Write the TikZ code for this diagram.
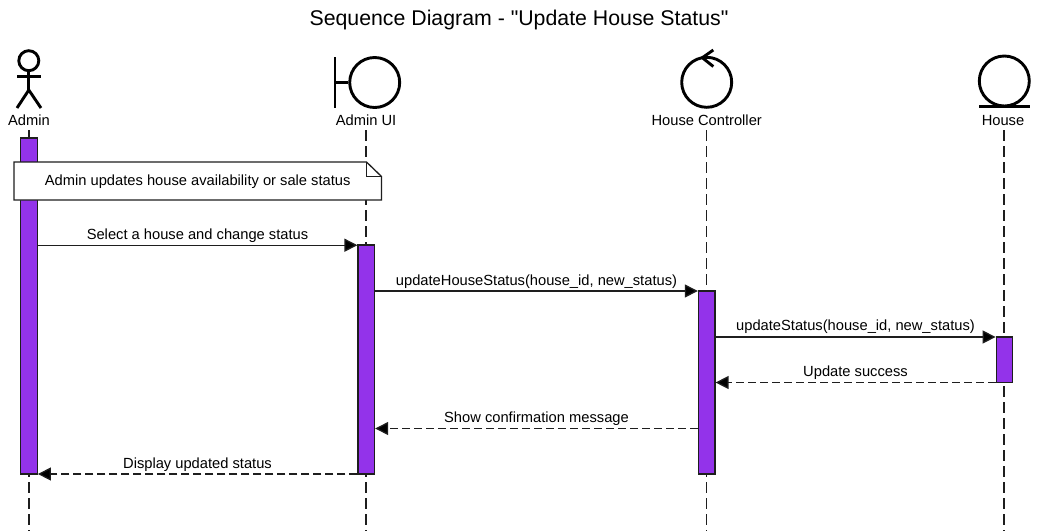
\documentclass[tikz,border=0pt]{standalone}
\usepackage{fontspec}
\setmainfont{Liberation Sans}
\newfontfamily\rawfont{Liberation Sans}
\usetikzlibrary{arrows.meta}
\definecolor{barfill}{RGB}{147,51,234}
\definecolor{ink}{RGB}{30,30,30}
\tikzset{
  x=1pt,y=-1pt,
  figure/.style={draw=black,line width=2.9pt,line cap=butt},
  figcircle/.style={draw=black,line width=2.9pt,circle,inner sep=0pt},
  lifeline/.style={draw=ink,line width=1.3pt,dash pattern=on 11pt off 5pt},
  bar/.style={draw=ink,line width=1.3pt,fill=barfill,minimum width=16.5pt,inner sep=0pt,rectangle},
  msg/.style={draw=ink,line width=1.3pt,-{Triangle[length=13pt,width=13pt,fill=black]}},
  reply/.style={msg,dash pattern=on 8pt off 4pt},
  lbl/.style={anchor=base,font=\fontsize{14.7}{16}\selectfont,text=black,inner sep=0pt},
  notebox/.style={draw=ink,line width=1.3pt,fill=white},
}
\begin{document}
\begin{tikzpicture}
\useasboundingbox (0,0) rectangle (1038,531);
\fill[white] (0,0) rectangle (1038,531);
\node[lbl,font=\fontsize{21.3}{24}\selectfont] (title) at (519,25) {\rawfont Sequence Diagram - "Update House Status"};

% participant labels
\node[lbl] (lA) at (29,125) {Admin};
\node[lbl] (lB) at (366,125) {Admin UI};
\node[lbl] (lC) at (706.7,125) {House Controller};
\node[lbl] (lD) at (1003,125) {House};

% lifeline ends
\coordinate (tA) at (29,130);   \coordinate (eA) at (29,531);
\coordinate (tB) at (366,130);  \coordinate (eB) at (366,531);
\coordinate (tC) at (706.7,130);\coordinate (eC) at (706.7,531);
\coordinate (tD) at (1004,130); \coordinate (eD) at (1004,531);
\draw[lifeline] (tA) -- (eA);
\draw[lifeline] (tB) -- (eB);
\draw[lifeline] (tC) -- (eC);
\draw[lifeline] (tD) -- (eD);

% activation bars
\node[bar,minimum height=336pt] (bA) at (29,306) {};
\node[bar,minimum height=229pt] (bB) at (366.3,359.5) {};
\node[bar,minimum height=183pt] (bC) at (706.7,382.5) {};
\node[bar,minimum height=45.5pt] (bD) at (1004.5,359.75) {};

% actor
\node[figcircle,minimum size=20pt] (head) at (28.8,60.7) {};
\coordinate (armL) at (17,76.7); \coordinate (armR) at (41,76.7);
\coordinate (hip) at (28.8,90);
\coordinate (legL) at (17,108); \coordinate (legR) at (41,108);
\draw[figure] (head.south) -- (hip);
\draw[figure] (armL) -- (armR);
\draw[figure] (legL) -- (hip) -- (legR);

% boundary
\node[figcircle,minimum size=50pt] (bnd) at (374.7,82.5) {};
\coordinate (bndT) at (335,57); \coordinate (bndB) at (335,108); \coordinate (bndM) at (335,82.5);
\draw[figure] (bndT) -- (bndB);
\draw[figure] (bndM) -- (bnd.west);

% control
\node[figcircle,minimum size=50pt] (ctl) at (706.7,82.3) {};
\coordinate (ctlTip) at (702.3,57.7); \coordinate (ctlU) at (713.3,50); \coordinate (ctlD) at (713.3,66.5);
\draw[figure] (ctlU) -- (ctlTip) -- (ctlD);

% entity
\node[figcircle,minimum size=50pt] (ent) at (1004.3,81) {};
\coordinate (entL) at (979,106.8); \coordinate (entR) at (1030,106.8);
\draw[figure] (entL) -- (entR);

% note
\coordinate (nTL) at (14,162); \coordinate (nFold) at (366.5,162);
\coordinate (nFoldR) at (381.5,176.5); \coordinate (nBR) at (381.5,200); \coordinate (nBL) at (14,200);
\coordinate (nIn) at (366.5,176.5);
\draw[notebox] (nTL) -- (nFold) -- (nFoldR) -- (nBR) -- (nBL) -- cycle;
\draw[notebox,fill=none] (nFold) -- (nIn) -- (nFoldR);
\node[lbl] (noteText) at (197.7,185) {Admin updates house availability or sale status};

% messages
\coordinate (m1) at (0,245.2);
\coordinate (m2) at (0,291);
\coordinate (m3) at (0,337);
\coordinate (m4) at (0,382.5);
\coordinate (m5) at (0,428.5);
\coordinate (m6) at (0,474);
\draw[msg] (bA.east |- m1) -- (bB.west |- m1);
\draw[msg] (bB.east |- m2) -- (bC.west |- m2);
\draw[msg] (bC.east |- m3) -- (bD.west |- m3);
\draw[reply] (bD.west |- m4) -- (bC.east |- m4);
\draw[reply] (bC.west |- m5) -- (bB.east |- m5);
\draw[reply] (bB.west |- m6) -- (bA.east |- m6);

\node[lbl] (t1) at (197.5,239) {Select a house and change status};
\node[lbl] (t2) at (536.5,285) {updateHouseStatus(house\_id, new\_status)};
\node[lbl] (t3) at (855.5,330) {updateStatus(house\_id, new\_status)};
\node[lbl] (t4) at (855.5,376) {Update success};
\node[lbl] (t5) at (536.5,422) {Show confirmation message};
\node[lbl] (t6) at (197.5,468) {Display updated status};
\end{tikzpicture}
\end{document}
